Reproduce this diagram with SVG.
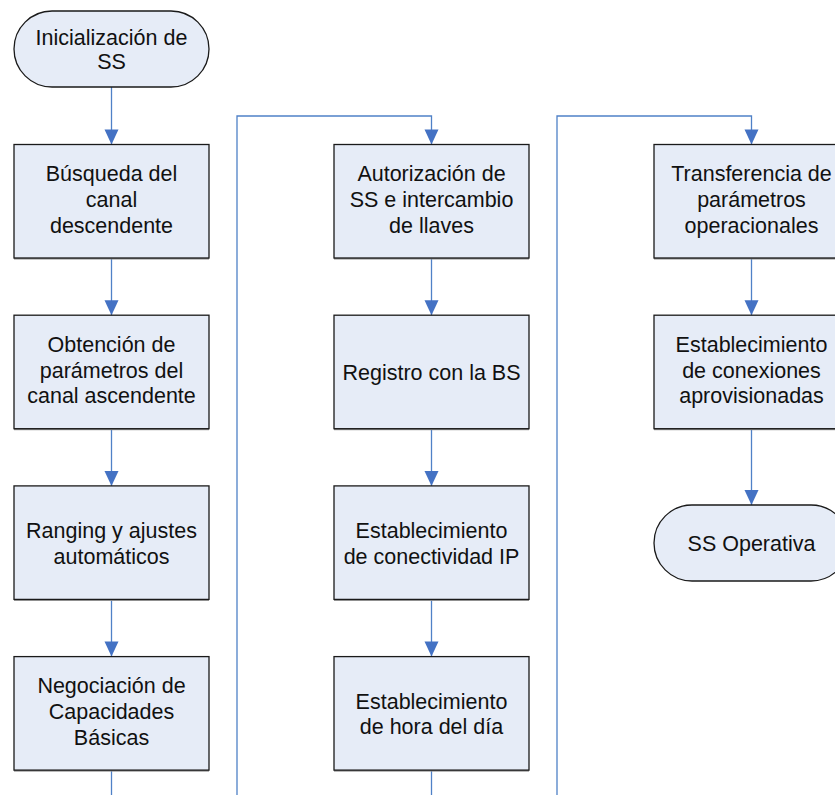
<svg xmlns="http://www.w3.org/2000/svg" width="835" height="795" viewBox="0 0 835 795">
  <style>
    .box { fill: #E6ECF7; stroke: #1A1A1A; stroke-width: 1.3; }
    .shadow { fill: #8C8C8C; }
    .lbl { font-family: "Liberation Sans", Arial, sans-serif; font-size: 21.5px; fill: #111111; text-anchor: middle; }
    .conn { fill: none; stroke: #4F81C7; stroke-width: 1.3; }
    .head { fill: #4472C4; }
  </style>
  <rect width="835" height="795" fill="#FFFFFF"/>

  <!-- connectors -->
  <g id="connectors">
    <!-- column 1 -->
    <path class="conn" d="M111.5,87 V144.5" />
    <path class="conn" d="M111.5,258 V315.2" />
    <path class="conn" d="M111.5,428.7 V485.9" />
    <path class="conn" d="M111.5,599.4 V656.6" />
    <path class="conn" d="M111.5,770 V795" />
    <!-- wrap to column 2 -->
    <path class="conn" d="M237,795 V116 H431.5 V144.5" />
    <path class="conn" d="M431.5,258 V315.2" />
    <path class="conn" d="M431.5,428.7 V485.9" />
    <path class="conn" d="M431.5,599.4 V656.6" />
    <path class="conn" d="M431.5,770 V795" />
    <!-- wrap to column 3 -->
    <path class="conn" d="M557,795 V116 H751.5 V144.5" />
    <path class="conn" d="M751.5,258 V315.2" />
    <path class="conn" d="M751.5,428.7 V505" />
    <!-- arrowheads -->
    <g class="head">
      <path d="M104.5,129.5 H118.5 L111.5,144.5 Z"/>
      <path d="M104.5,300.2 H118.5 L111.5,315.2 Z"/>
      <path d="M104.5,470.9 H118.5 L111.5,485.9 Z"/>
      <path d="M104.5,641.6 H118.5 L111.5,656.6 Z"/>
      <path d="M424.5,129.5 H438.5 L431.5,144.5 Z"/>
      <path d="M424.5,300.2 H438.5 L431.5,315.2 Z"/>
      <path d="M424.5,470.9 H438.5 L431.5,485.9 Z"/>
      <path d="M424.5,641.6 H438.5 L431.5,656.6 Z"/>
      <path d="M744.5,129.5 H758.5 L751.5,144.5 Z"/>
      <path d="M744.5,300.2 H758.5 L751.5,315.2 Z"/>
      <path d="M744.5,490 H758.5 L751.5,505 Z"/>
    </g>
  </g>

  <!-- column 1 -->
  <g id="inicio">
    <rect class="box" x="14" y="11" width="195" height="76" rx="38" ry="38"/>
    <text class="lbl" y="44.5"><tspan x="111.5">Inicialización de</tspan><tspan x="111.5" dy="24.5">SS</tspan></text>
  </g>
  <g id="busqueda">
    <rect class="shadow" x="14" y="145.5" width="195" height="114"/>
    <rect class="box" x="14" y="144.5" width="195" height="113.5"/>
    <text class="lbl" y="181.2"><tspan x="111.5">Búsqueda del</tspan><tspan x="111.5" dy="25.7">canal</tspan><tspan x="111.5" dy="25.7">descendente</tspan></text>
  </g>
  <g id="obtencion">
    <rect class="shadow" x="14" y="316.2" width="195" height="114"/>
    <rect class="box" x="14" y="315.2" width="195" height="113.5"/>
    <text class="lbl" y="351.9"><tspan x="111.5">Obtención de</tspan><tspan x="111.5" dy="25.7">parámetros del</tspan><tspan x="111.5" dy="25.7">canal ascendente</tspan></text>
  </g>
  <g id="ranging">
    <rect class="shadow" x="14" y="486.9" width="195" height="114"/>
    <rect class="box" x="14" y="485.9" width="195" height="113.5"/>
    <text class="lbl" y="537.9"><tspan x="111.5">Ranging y ajustes</tspan><tspan x="111.5" dy="25.7">automáticos</tspan></text>
  </g>
  <g id="negociacion">
    <rect class="shadow" x="14" y="657.6" width="195" height="114"/>
    <rect class="box" x="14" y="656.6" width="195" height="113.5"/>
    <text class="lbl" y="693.3"><tspan x="111.5">Negociación de</tspan><tspan x="111.5" dy="25.7">Capacidades</tspan><tspan x="111.5" dy="25.7">Básicas</tspan></text>
  </g>

  <!-- column 2 -->
  <g id="autorizacion">
    <rect class="shadow" x="334" y="145.5" width="195" height="114"/>
    <rect class="box" x="334" y="144.5" width="195" height="113.5"/>
    <text class="lbl" y="181.2"><tspan x="431.5">Autorización de</tspan><tspan x="431.5" dy="25.7">SS e intercambio</tspan><tspan x="431.5" dy="25.7">de llaves</tspan></text>
  </g>
  <g id="registro">
    <rect class="shadow" x="334" y="316.2" width="195" height="114"/>
    <rect class="box" x="334" y="315.2" width="195" height="113.5"/>
    <text class="lbl" x="431.5" y="379.7">Registro con la BS</text>
  </g>
  <g id="conectividad">
    <rect class="shadow" x="334" y="486.9" width="195" height="114"/>
    <rect class="box" x="334" y="485.9" width="195" height="113.5"/>
    <text class="lbl" y="537.9"><tspan x="431.5">Establecimiento</tspan><tspan x="431.5" dy="25.7">de conectividad IP</tspan></text>
  </g>
  <g id="hora">
    <rect class="shadow" x="334" y="657.6" width="195" height="114"/>
    <rect class="box" x="334" y="656.6" width="195" height="113.5"/>
    <text class="lbl" y="708.6"><tspan x="431.5">Establecimiento</tspan><tspan x="431.5" dy="25.7">de hora del día</tspan></text>
  </g>

  <!-- column 3 -->
  <g id="transferencia">
    <rect class="shadow" x="654" y="145.5" width="195" height="114"/>
    <rect class="box" x="654" y="144.5" width="195" height="113.5"/>
    <text class="lbl" y="181.2"><tspan x="751.5">Transferencia de</tspan><tspan x="751.5" dy="25.7">parámetros</tspan><tspan x="751.5" dy="25.7">operacionales</tspan></text>
  </g>
  <g id="conexiones">
    <rect class="shadow" x="654" y="316.2" width="195" height="114"/>
    <rect class="box" x="654" y="315.2" width="195" height="113.5"/>
    <text class="lbl" y="351.9"><tspan x="751.5">Establecimiento</tspan><tspan x="751.5" dy="25.7">de conexiones</tspan><tspan x="751.5" dy="25.7">aprovisionadas</tspan></text>
  </g>
  <g id="operativa">
    <rect class="box" x="654" y="505" width="195" height="76" rx="38" ry="38"/>
    <text class="lbl" x="751.5" y="550.7">SS Operativa</text>
  </g>
</svg>
